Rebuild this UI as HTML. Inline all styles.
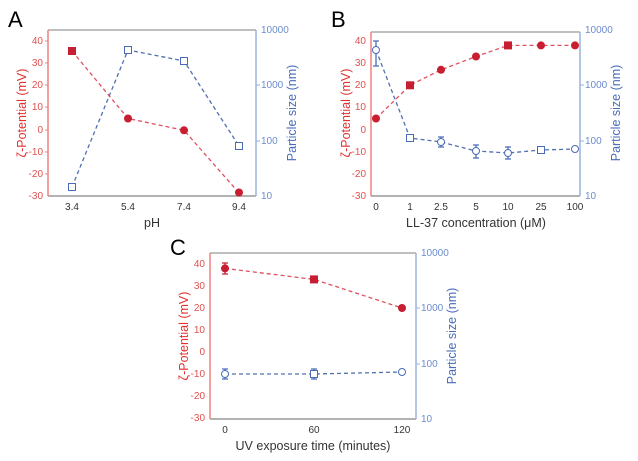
<!DOCTYPE html>
<html><head><meta charset="utf-8"><style>body{margin:0;background:#fff}svg{display:block}text{font-family:"Liberation Sans",sans-serif}</style></head><body>
<svg width="638" height="461" viewBox="0 0 638 461">
<!-- Panel A -->
<text x="8" y="27" font-size="22">A</text>
<line x1="48" y1="30" x2="256" y2="30" stroke="#aaa" stroke-width="1.5"/>
<line x1="48" y1="196" x2="256" y2="196" stroke="#999" stroke-width="1.5"/>
<line x1="48" y1="30" x2="48" y2="196" stroke="#f08080" stroke-width="1.5"/>
<line x1="256" y1="30" x2="256" y2="196" stroke="#9ab4dc" stroke-width="1.5"/>
<g fill="#e05050" font-size="10" text-anchor="end">
<text x="43" y="44">40</text><text x="43" y="66">30</text><text x="43" y="88">20</text><text x="43" y="110">10</text><text x="43" y="133">0</text><text x="43" y="155">-10</text><text x="43" y="177">-20</text><text x="43" y="199">-30</text>
</g>
<g stroke="#f08080"><line x1="45" y1="41" x2="48" y2="41"/><line x1="45" y1="63" x2="48" y2="63"/><line x1="45" y1="85" x2="48" y2="85"/><line x1="45" y1="107" x2="48" y2="107"/><line x1="45" y1="130" x2="48" y2="130"/><line x1="45" y1="152" x2="48" y2="152"/><line x1="45" y1="174" x2="48" y2="174"/></g>
<g stroke="#9ab4dc"><line x1="256" y1="85" x2="260" y2="85"/><line x1="256" y1="141" x2="260" y2="141"/></g>
<g fill="#6a8ccc" font-size="10">
<text x="261" y="33">10000</text><text x="261" y="88">1000</text><text x="261" y="144">100</text><text x="261" y="199">10</text>
</g>
<g fill="#333" font-size="10" text-anchor="middle"><text x="72" y="210">3.4</text><text x="128" y="210">5.4</text><text x="184" y="210">7.4</text><text x="239" y="210">9.4</text></g>
<text x="152" y="227" font-size="12.5" fill="#333" text-anchor="middle">pH</text>
<text transform="translate(26,113) rotate(-90)" font-size="12.5" fill="#e03030" text-anchor="middle">ζ-Potential (mV)</text>
<text transform="translate(296,113) rotate(-90)" font-size="12.5" fill="#4a6cb8" text-anchor="middle">Particle size (nm)</text>
<polyline points="72,51 128,118.5 184,130.3 239,192.9" fill="none" stroke="#e05060" stroke-width="1.3" stroke-dasharray="4,3"/>
<polyline points="72,187 128,50 184,61 239,146" fill="none" stroke="#5070b0" stroke-width="1.3" stroke-dasharray="4,3"/>
<g fill="#c81e32"><rect x="68" y="47" width="8" height="8"/><circle cx="128" cy="118.5" r="4"/><circle cx="184" cy="130.3" r="4"/><circle cx="239" cy="192.5" r="4"/></g>
<g fill="#fff" stroke="#4a6cb8" stroke-width="1"><rect x="68.5" y="183.5" width="7" height="7"/><rect x="124.5" y="46.5" width="7" height="7"/><rect x="180.5" y="57.5" width="7" height="7"/><rect x="235.5" y="142.5" width="7" height="7"/></g>

<!-- Panel B -->
<text x="331" y="27" font-size="22">B</text>
<line x1="371" y1="32" x2="580" y2="32" stroke="#aaa" stroke-width="1.5"/>
<line x1="371" y1="196" x2="580" y2="196" stroke="#999" stroke-width="1.5"/>
<line x1="371" y1="32" x2="371" y2="196" stroke="#f08080" stroke-width="1.5"/>
<line x1="580" y1="32" x2="580" y2="196" stroke="#9ab4dc" stroke-width="1.5"/>
<g fill="#e05050" font-size="10" text-anchor="end">
<text x="366" y="44">40</text><text x="366" y="66">30</text><text x="366" y="88">20</text><text x="366" y="110">10</text><text x="366" y="133">0</text><text x="366" y="155">-10</text><text x="366" y="177">-20</text><text x="366" y="199">-30</text>
</g>
<g stroke="#9ab4dc"><line x1="580" y1="85" x2="584" y2="85"/><line x1="580" y1="141" x2="584" y2="141"/></g>
<g fill="#6a8ccc" font-size="10">
<text x="585" y="33">10000</text><text x="585" y="88">1000</text><text x="585" y="144">100</text><text x="585" y="199">10</text>
</g>
<g fill="#333" font-size="10" text-anchor="middle"><text x="376" y="210">0</text><text x="410" y="210">1</text><text x="441" y="210">2.5</text><text x="476" y="210">5</text><text x="508" y="210">10</text><text x="541" y="210">25</text><text x="575" y="210">100</text></g>
<text x="476" y="227" font-size="12.5" fill="#333" text-anchor="middle">LL-37 concentration (μM)</text>
<text transform="translate(350,113) rotate(-90)" font-size="12.5" fill="#e03030" text-anchor="middle">ζ-Potential (mV)</text>
<text transform="translate(620,113) rotate(-90)" font-size="12.5" fill="#4a6cb8" text-anchor="middle">Particle size (nm)</text>
<polyline points="376,118.5 410,85.3 441,69.8 476,56.5 508,45.4 541,45.4 575,45.4" fill="none" stroke="#e05060" stroke-width="1.3" stroke-dasharray="4,3"/>
<polyline points="376,50 410,138 441,142 476,151 508,153 541,150 575,149" fill="none" stroke="#5070b0" stroke-width="1.3" stroke-dasharray="4,3"/>
<g stroke="#4a6cb8" stroke-width="1.3"><path d="M376,41V66M373,41H379M373,66H379"/><path d="M441,137V147M438,137H444M438,147H444"/><path d="M476,145V158M473,145H479M473,158H479"/><path d="M508,147V159M505,147H511M505,159H511"/><path d="M541,146V154"/></g>
<g fill="#c81e32"><circle cx="376" cy="118.5" r="4"/><rect x="406" y="81.3" width="8" height="8"/><circle cx="441" cy="69.8" r="4"/><circle cx="476" cy="56.5" r="4"/><rect x="504" y="41.4" width="8" height="8"/><circle cx="541" cy="45.4" r="4"/><circle cx="575" cy="45.4" r="4"/></g>
<g fill="#fff" stroke="#4a6cb8" stroke-width="1"><circle cx="376" cy="50" r="3.5"/><rect x="406.5" y="134.5" width="7" height="7"/><circle cx="441" cy="142" r="3.5"/><circle cx="476" cy="151" r="3.5"/><circle cx="508" cy="153" r="3.5"/><rect x="537.5" y="146.5" width="7" height="7"/><circle cx="575" cy="149" r="3.5"/></g>

<!-- Panel C -->
<text x="170" y="255" font-size="22">C</text>
<line x1="210" y1="253" x2="416" y2="253" stroke="#aaa" stroke-width="1.5"/>
<line x1="210" y1="419" x2="416" y2="419" stroke="#999" stroke-width="1.5"/>
<line x1="210" y1="253" x2="210" y2="419" stroke="#f08080" stroke-width="1.5"/>
<line x1="416" y1="253" x2="416" y2="419" stroke="#9ab4dc" stroke-width="1.5"/>
<g fill="#e05050" font-size="10" text-anchor="end">
<text x="205" y="267">40</text><text x="205" y="289">30</text><text x="205" y="311">20</text><text x="205" y="333">10</text><text x="205" y="355">0</text><text x="205" y="377">-10</text><text x="205" y="399">-20</text><text x="205" y="421">-30</text>
</g>
<g stroke="#9ab4dc"><line x1="416" y1="308" x2="420" y2="308"/><line x1="416" y1="364" x2="420" y2="364"/></g>
<g fill="#6a8ccc" font-size="10">
<text x="421" y="256">10000</text><text x="421" y="311">1000</text><text x="421" y="367">100</text><text x="421" y="422">10</text>
</g>
<g fill="#333" font-size="10" text-anchor="middle"><text x="225" y="433">0</text><text x="314" y="433">60</text><text x="402" y="433">120</text></g>
<text x="313" y="450" font-size="12.5" fill="#333" text-anchor="middle">UV exposure time (minutes)</text>
<text transform="translate(188,336) rotate(-90)" font-size="12.5" fill="#e03030" text-anchor="middle">ζ-Potential (mV)</text>
<text transform="translate(456,336) rotate(-90)" font-size="12.5" fill="#4a6cb8" text-anchor="middle">Particle size (nm)</text>
<polyline points="225,268.4 314,279.4 402,308" fill="none" stroke="#e05060" stroke-width="1.3" stroke-dasharray="4,3"/>
<polyline points="225,374 314,374 402,372" fill="none" stroke="#5070b0" stroke-width="1.3" stroke-dasharray="4,3"/>
<g stroke="#c81e32" stroke-width="1.3"><path d="M225,263V274M222,263H228M222,274H228"/></g>
<g stroke="#4a6cb8" stroke-width="1.3"><path d="M225,369V379M222,369H228M222,379H228"/><path d="M314,369V379M311,369H317M311,379H317"/></g>
<g fill="#c81e32"><circle cx="225" cy="268.4" r="4"/><rect x="310" y="275.4" width="8" height="8"/><circle cx="402" cy="308" r="4"/></g>
<g fill="#fff" stroke="#4a6cb8" stroke-width="1"><circle cx="225" cy="374" r="3.5"/><rect x="310.5" y="370.5" width="7" height="7"/><circle cx="402" cy="372" r="3.5"/></g>
</svg>
</body></html>
